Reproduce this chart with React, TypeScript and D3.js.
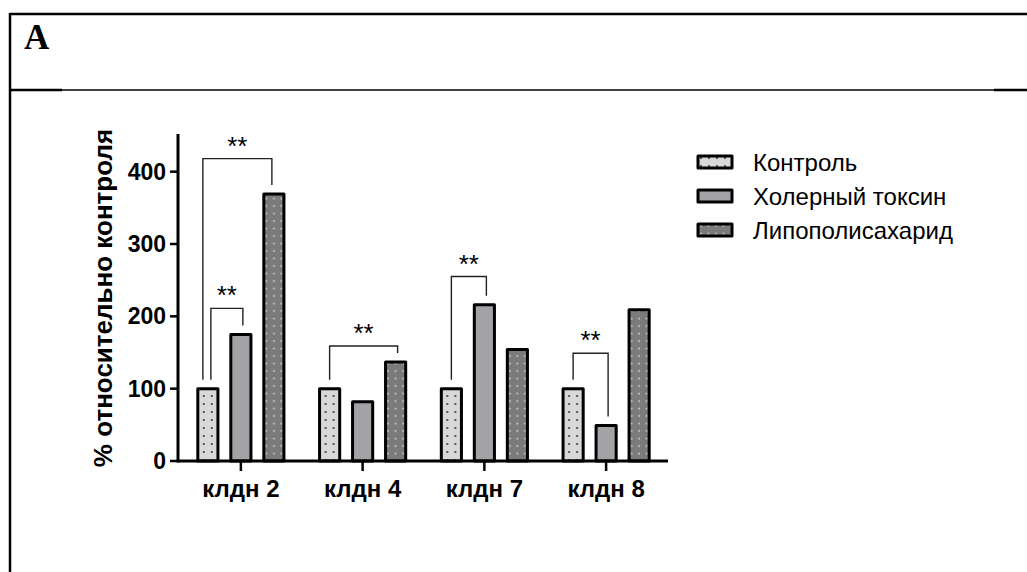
import React from 'react';
import * as d3 from 'd3';

// genes on the x axis
const genes = ['клдн 2', 'клдн 4', 'клдн 7', 'клдн 8'];
const seriesNames = ['Контроль', 'Холерный токсин', 'Липополисахарид'];
const control = [100, 100, 100, 100];
const choleraToxin = [175, 82, 216, 49];
const lps = [369, 137, 154, 209];
const yTicks = [0, 100, 200, 300, 400];

// significance brackets: gene index, from series, to series, bracket level (% units)
const bracketGene = [0, 0, 1, 2, 3];
const bracketFrom = [0, 0, 0, 0, 0];
const bracketTo = [2, 1, 2, 1, 1];
const bracketLevel = [418, 211, 159, 255, 149];
const bracketLabel = ['**', '**', '**', '**', '**'];

const W = 1027;
const H = 572;
const font = '"Liberation Sans", Arial, sans-serif';
const fills = ['url(#dotsLight)', '#a3a3a7', 'url(#dotsDark)'];

export default function App() {
  const values = [control, choleraToxin, lps];

  const x0 = d3.scaleBand().domain(genes).range([180, 667]).padding(0);
  const x1 = d3
    .scaleBand()
    .domain(seriesNames)
    .range([-49.5, 49.5])
    .paddingInner(0.39)
    .paddingOuter(0.195);
  const y = d3.scaleLinear().domain([0, 450]).range([461, 135.5]);

  const center = (g: number, s: number) =>
    (x0(genes[g]) as number) + x0.bandwidth() / 2 + (x1(seriesNames[s]) as number) + x1.bandwidth() / 2;

  const brackets = bracketGene.map((g, i) => {
    // nest brackets that start from the same bar
    const shared = bracketGene.some((g2, j) => j !== i && g2 === g && bracketFrom[j] === bracketFrom[i]);
    const wider = shared && bracketTo[i] === Math.max(...bracketGene.map((g2, j) => (g2 === g ? bracketTo[j] : -1)));
    const dx = shared ? (wider ? -5 : 3) : 0;
    const xa = center(g, bracketFrom[i]) + dx;
    const xb = center(g, bracketTo[i]) + (shared && wider ? -2 : 2);
    const top = y(bracketLevel[i]);
    const ya = y(values[bracketFrom[i]][g]) - 9;
    const yb = y(values[bracketTo[i]][g]) - 9;
    return { xa, xb, top, ya, yb, label: bracketLabel[i], key: i };
  });

  return (
    <svg width={W} height={H} style={{ position: 'absolute', left: 0, top: 0, display: 'block', background: '#fff' }}>
      <defs>
        <pattern id="dotsLight" patternUnits="userSpaceOnUse" width="8" height="8">
          <rect width="8" height="8" fill="#d8d8d8" />
          <circle cx="3" cy="4" r="1.1" fill="#3a3a3a" />
        </pattern>
        <pattern id="dotsDark" patternUnits="userSpaceOnUse" width="7.5" height="7.5">
          <rect width="7.5" height="7.5" fill="#7b7b7d" />
          <circle cx="3" cy="3.5" r="1" fill="#cfcfcf" />
        </pattern>
      </defs>

      {/* frame */}
      <line x1={10} y1={14} x2={W} y2={14} stroke="#000" strokeWidth={2.5} />
      <line x1={10} y1={13} x2={10} y2={H} stroke="#000" strokeWidth={2.5} />
      <line x1={10} y1={90} x2={W} y2={90} stroke="#000" strokeWidth={1.5} />
      <line x1={10} y1={90} x2={62} y2={90} stroke="#000" strokeWidth={2.5} />
      <line x1={994} y1={90} x2={W} y2={90} stroke="#000" strokeWidth={2.5} />
      <text x={24} y={49} fontFamily='"Liberation Serif", "Times New Roman", serif' fontWeight="bold" fontSize={35}>
        A
      </text>

      {/* bars */}
      {genes.map((g, gi) => (
        <g key={g} transform={`translate(${(x0(g) as number) + x0.bandwidth() / 2},0)`}>
          {seriesNames.map((s, si) => (
            <rect
              key={s}
              x={x1(s)}
              y={y(values[si][gi])}
              width={x1.bandwidth()}
              height={y(0) - y(values[si][gi])}
              fill={fills[si]}
              stroke="#000"
              strokeWidth={3}
              strokeLinejoin="round"
            />
          ))}
        </g>
      ))}

      {/* axes */}
      <line x1={178} y1={y(0)} x2={668} y2={y(0)} stroke="#000" strokeWidth={3} />
      <line x1={178} y1={y(0) + 1.5} x2={178} y2={134} stroke="#000" strokeWidth={3} />
      {yTicks.map((t) => (
        <g key={t}>
          <line x1={170} x2={178} y1={y(t)} y2={y(t)} stroke="#000" strokeWidth={2.5} />
          <text
            x={166}
            y={y(t) + 8}
            textAnchor="end"
            fontFamily={font}
            fontWeight="bold"
            fontSize={23}
          >
            {t}
          </text>
        </g>
      ))}
      {genes.map((g) => {
        const cx = (x0(g) as number) + x0.bandwidth() / 2;
        return (
          <g key={g}>
            <line x1={cx} x2={cx} y1={y(0)} y2={y(0) + 10} stroke="#000" strokeWidth={2.5} />
            <text x={cx} y={497} textAnchor="middle" fontFamily={font} fontWeight="bold" fontSize={24}>
              {g}
            </text>
          </g>
        );
      })}
      <text
        transform="translate(112,298) rotate(-90)"
        textAnchor="middle"
        fontFamily={font}
        fontWeight="bold"
        fontSize={26}
      >
        % относительно контроля
      </text>

      {/* significance */}
      {brackets.map((b) => (
        <g key={b.key}>
          <path
            d={`M${b.xa},${b.ya}V${b.top}H${b.xb}V${b.yb}`}
            fill="none"
            stroke="#222"
            strokeWidth={1.4}
          />
          <text
            x={(b.xa + b.xb) / 2}
            y={b.top - 4}
            textAnchor="middle"
            fontFamily={font}
            fontSize={26}
          >
            {b.label}
          </text>
        </g>
      ))}

      {/* legend */}
      {seriesNames.map((s, i) => (
        <g key={s} transform={`translate(698,${162 + i * 34})`}>
          <rect x={0} y={-6} width={34} height={12} fill={fills[i]} stroke="#000" strokeWidth={3} strokeLinejoin="round" />
          <text x={55} y={8.5} fontFamily={font} fontSize={24}>
            {s}
          </text>
        </g>
      ))}
    </svg>
  );
}
